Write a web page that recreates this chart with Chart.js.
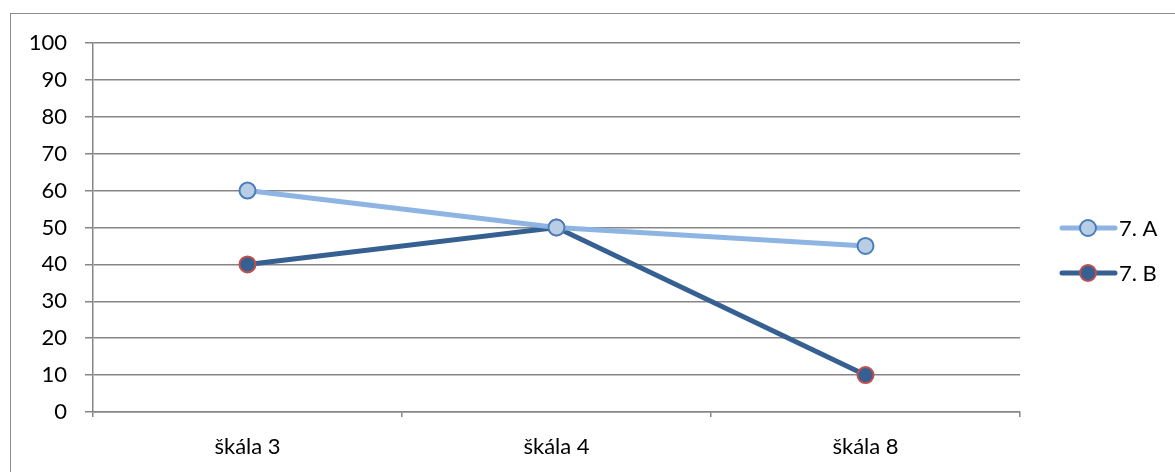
<!DOCTYPE html>
<html>
<head>
<meta charset="utf-8">
<script src="https://cdn.jsdelivr.net/npm/chart.js@4.4.1/dist/chart.umd.min.js"></script>
<style>
html,body{margin:0;padding:0;background:#fff;}
#wrap{position:relative;width:1175px;height:472px;}
#frame{position:absolute;left:10px;top:13px;width:1200px;height:500px;border:1.5px solid #8c8c8c;box-sizing:border-box;}
canvas{position:absolute;left:0;top:0;}
</style>
</head>
<body>
<div id="wrap"><div id="frame"></div><canvas id="c" width="1175" height="472"></canvas></div>
<script>
const categories = ["škála 3", "škála 4", "škála 8"];
const seriesA = [60, 50, 45];
const seriesB = [40, 50, 10];
const seriesNames = ["7. A", "7. B"];
const yTicks = [0, 10, 20, 30, 40, 50, 60, 70, 80, 90, 100];

const FONT = "Lato, 'Liberation Sans', sans-serif";
const FSIZE = 22;

const legendPlugin = {
  id: 'sideLegend',
  afterDraw(chart) {
    const ctx = chart.ctx;
    const ys = [228, 273];
    chart.data.datasets.forEach((ds, i) => {
      const y = ys[i];
      ctx.save();
      ctx.strokeStyle = ds.borderColor;
      ctx.lineWidth = ds.borderWidth;
      ctx.lineCap = 'round';
      ctx.beginPath();
      ctx.moveTo(1062, y);
      ctx.lineTo(1115, y);
      ctx.stroke();
      ctx.beginPath();
      ctx.arc(1088, y, 8, 0, Math.PI * 2);
      ctx.fillStyle = ds.pointBackgroundColor;
      ctx.fill();
      ctx.lineWidth = 2;
      ctx.strokeStyle = ds.pointBorderColor;
      ctx.stroke();
      ctx.fillStyle = '#000';
      ctx.font = FSIZE + 'px ' + FONT;
      ctx.textBaseline = 'middle';
      ctx.textAlign = 'left';
      ctx.fillText(ds.label, 1119, y + 1);
      ctx.restore();
    });
  }
};

new Chart(document.getElementById('c'), {
  type: 'line',
  data: {
    labels: categories,
    datasets: [
      {
        label: seriesNames[0],
        data: seriesA,
        borderColor: '#8db4e3',
        borderWidth: 5,
        pointBackgroundColor: '#b9cde5',
        pointBorderColor: '#4a7ebb',
        pointBorderWidth: 2,
        pointRadius: 8,
        tension: 0
      },
      {
        label: seriesNames[1],
        data: seriesB,
        borderColor: '#376092',
        borderWidth: 5,
        pointBackgroundColor: '#376092',
        pointBorderColor: '#c0504d',
        pointBorderWidth: 2,
        pointRadius: 8,
        tension: 0
      }
    ]
  },
  options: {
    responsive: false,
    animation: false,
    layout: { padding: { left: 0, right: 155, top: 43, bottom: 0 } },
    plugins: { legend: { display: false }, tooltip: { enabled: false } },
    scales: {
      x: {
        offset: true,
        afterFit(scale) { scale.height = 60; },
        grid: { drawOnChartArea: false, drawTicks: true, tickLength: 5, color: '#868686', lineWidth: 1.5, offset: true },
        border: { display: true, color: '#868686', width: 1.5 },
        ticks: { color: '#000', font: { family: FONT, size: FSIZE }, padding: 17 }
      },
      y: {
        min: 0, max: 100,
        afterFit(scale) { scale.width = 93; },
        afterBuildTicks(scale) { scale.ticks = yTicks.map(v => ({ value: v })); },
        grid: { color: '#868686', lineWidth: 1.5, tickLength: 8 },
        border: { display: true, color: '#868686', width: 1.5 },
        ticks: { color: '#000', font: { family: FONT, size: FSIZE }, padding: 18 }
      }
    }
  },
  plugins: [legendPlugin]
});
</script>
</body>
</html>
